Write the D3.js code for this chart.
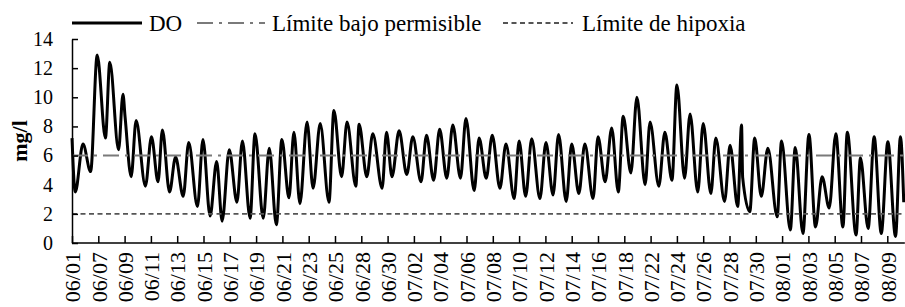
<!DOCTYPE html>
<html>
<head>
<meta charset="utf-8">
<script src="https://cdn.jsdelivr.net/npm/d3@7"></script>
<style>
  body { margin: 0; background: #fff; }
  svg { display: block; font-family: 'Liberation Serif', 'Times New Roman', serif; }
</style>
</head>
<body>
<svg width="905" height="307"></svg>
<script>
// hours since start of record (each category tick = 48 h)
const hours = [0, 6, 20, 34, 46, 61, 69, 85, 93, 97, 108, 117, 134, 145, 157, 165, 178, 189, 203, 213,
  229, 239, 252, 264, 274, 287, 301, 311, 325, 334, 349, 360, 373, 383, 396, 405, 416, 429, 440, 453,
  469, 478, 492, 502, 518, 524, 538, 549, 566, 574, 584, 597, 611, 622, 637, 647, 660, 671, 684, 695,
  709, 719, 734, 743, 756, 767, 781, 792, 807, 816, 828, 839, 854, 865, 878, 888, 902, 912, 925, 936,
  951, 960, 973, 985, 997, 1006, 1020, 1031, 1046, 1055, 1071, 1082, 1095, 1104, 1118, 1128, 1142, 1152, 1166, 1175,
  1191, 1201, 1215, 1222, 1224, 1237, 1246, 1258, 1270, 1287, 1295, 1311, 1320, 1334, 1345, 1357, 1369, 1382, 1394, 1407,
  1415, 1431, 1439, 1453, 1464, 1477, 1489, 1503, 1512, 1518]

// dissolved oxygen, mg/l
const doValues = [7.2, 3.5, 6.8, 4.9, 12.9, 7.2, 12.4, 6.4, 10.2, 8.6, 4.55, 8.4, 3.9, 7.3, 4.2, 7.75, 3.5, 5.9, 3.2, 6.9,
  2.5, 7.1, 1.85, 5.6, 1.5, 6.4, 2.8, 7.0, 1.7, 7.5, 1.7, 6.5, 1.25, 7.1, 3.1, 7.6, 2.7, 8.3, 3.75, 8.2,
  2.8, 9.1, 4.55, 8.3, 3.9, 8.15, 4.55, 7.5, 3.75, 7.6, 4.55, 7.7, 4.7, 7.3, 4.2, 7.4, 4.3, 7.8, 4.45, 8.1,
  4.45, 8.55, 3.6, 7.2, 4.45, 7.4, 3.75, 6.8, 3.05, 7.0, 3.2, 7.15, 3.05, 6.9, 3.3, 7.45, 2.85, 6.8, 3.4, 6.8,
  3.05, 7.3, 4.2, 7.9, 3.5, 8.7, 4.8, 10.0, 4.0, 8.3, 3.9, 7.6, 4.3, 10.85, 4.45, 8.85, 3.5, 8.2, 3.4, 7.2,
  2.85, 6.7, 2.5, 8.1, 4.5, 2.15, 7.2, 3.2, 6.5, 1.8, 7.0, 0.9, 6.55, 0.65, 7.45, 1.1, 4.55, 2.4, 7.5, 1.1,
  7.6, 0.55, 5.85, 1.0, 7.3, 0.65, 6.95, 0.45, 7.3, 2.8]

const dateLabels = ['06/01', '06/07', '06/09', '06/11', '06/13', '06/15', '06/17', '06/19', '06/21', '06/23',
  '06/25', '06/28', '06/30', '07/02', '07/04', '07/06', '07/08', '07/10', '07/12', '07/14',
  '07/16', '07/18', '07/22', '07/24', '07/26', '07/28', '07/30', '08/01', '08/03', '08/05', '08/07', '08/09']

const yTicks = [0, 2, 4, 6, 8, 10, 12, 14]
const limitPermisible = 6
const limitHipoxia = 2
const seriesNames = ['DO', 'Límite bajo permisible', 'Límite de hipoxia']

const hoursPerTick = 48
const hourMax = 1520

const margin = { top: 39, right: 0, bottom: 64, left: 72 }
const width = 905
const height = 307

const data = hours.map((h, i) => ({ h, v: doValues[i] }))

const xScale = d3.scaleLinear()
  .domain([0, hourMax])
  .range([margin.left, margin.left + hourMax / hoursPerTick * 26.3])

const yScale = d3.scaleLinear()
  .domain([0, 14])
  .range([height - margin.bottom, margin.top])

const svg = d3.select('svg')

// DO series
const line = d3.line()
  .x(d => xScale(d.h))
  .y(d => yScale(d.v))
  .curve(d3.curveMonotoneX)

svg.append('path')
  .datum(data)
  .attr('fill', 'none')
  .attr('stroke', '#000')
  .attr('stroke-width', 3)
  .attr('stroke-linejoin', 'round')
  .attr('d', line)

// limits
const styles = {
  permisible: { stroke: '#7a7a7a', dash: '16,6,3,6', width: 2 },
  hipoxia: { stroke: '#555', dash: '5,3.5', width: 1.8 }
}

const xEnd = xScale(hourMax)

svg.append('line')
  .attr('x1', margin.left).attr('x2', xEnd)
  .attr('y1', yScale(limitPermisible)).attr('y2', yScale(limitPermisible))
  .attr('stroke', styles.permisible.stroke)
  .attr('stroke-width', styles.permisible.width)
  .attr('stroke-dasharray', styles.permisible.dash)

svg.append('line')
  .attr('x1', margin.left).attr('x2', xEnd)
  .attr('y1', yScale(limitHipoxia)).attr('y2', yScale(limitHipoxia))
  .attr('stroke', styles.hipoxia.stroke)
  .attr('stroke-width', styles.hipoxia.width)
  .attr('stroke-dasharray', styles.hipoxia.dash)

// axes
const xAxis = d3.axisBottom(xScale)
  .tickValues(dateLabels.map((_, i) => i * hoursPerTick))
  .tickFormat((_, i) => dateLabels[i])
  .tickSizeInner(-7)
  .tickSizeOuter(0)

const yAxis = d3.axisLeft(yScale)
  .tickValues(yTicks)
  .tickSizeInner(-6)
  .tickSizeOuter(0)
  .tickPadding(19)

const gx = svg.append('g')
  .attr('transform', `translate(0,${yScale(0)})`)
  .call(xAxis)

gx.select('.domain').attr('d', `M${margin.left},0H${xEnd}`)

gx.selectAll('text')
  .attr('transform', 'rotate(-90)')
  .attr('text-anchor', 'end')
  .attr('x', -9)
  .attr('y', 0)
  .attr('dy', '0.35em')
  .attr('font-size', 22)

const gy = svg.append('g')
  .attr('transform', `translate(${margin.left},0)`)
  .call(yAxis)

gy.selectAll('text').attr('font-size', 20)

svg.selectAll('.domain, .tick line')
  .attr('stroke', '#000')
  .attr('stroke-width', 1.5)

svg.selectAll('.tick text')
  .attr('fill', '#000')
  .attr('font-family', "'Liberation Serif', serif")

// y title
svg.append('text')
  .attr('transform', `translate(27,${yScale(7)}) rotate(-90)`)
  .attr('text-anchor', 'middle')
  .attr('font-size', 22)
  .attr('font-weight', 'bold')
  .text('mg/l')

// legend
const legendY = 23
const legend = svg.append('g').attr('font-size', 23)

legend.append('line')
  .attr('x1', 72).attr('x2', 142).attr('y1', legendY).attr('y2', legendY)
  .attr('stroke', '#000').attr('stroke-width', 3)
legend.append('text').attr('x', 149).attr('y', legendY + 8).text(seriesNames[0])

legend.append('line')
  .attr('x1', 197).attr('x2', 265).attr('y1', legendY).attr('y2', legendY)
  .attr('stroke', styles.permisible.stroke).attr('stroke-width', styles.permisible.width)
  .attr('stroke-dasharray', styles.permisible.dash)
legend.append('text').attr('x', 272).attr('y', legendY + 8).text(seriesNames[1])

legend.append('line')
  .attr('x1', 503).attr('x2', 573).attr('y1', legendY).attr('y2', legendY)
  .attr('stroke', styles.hipoxia.stroke).attr('stroke-width', styles.hipoxia.width)
  .attr('stroke-dasharray', styles.hipoxia.dash)
legend.append('text').attr('x', 582).attr('y', legendY + 8).text(seriesNames[2])
</script>
</body>
</html>
